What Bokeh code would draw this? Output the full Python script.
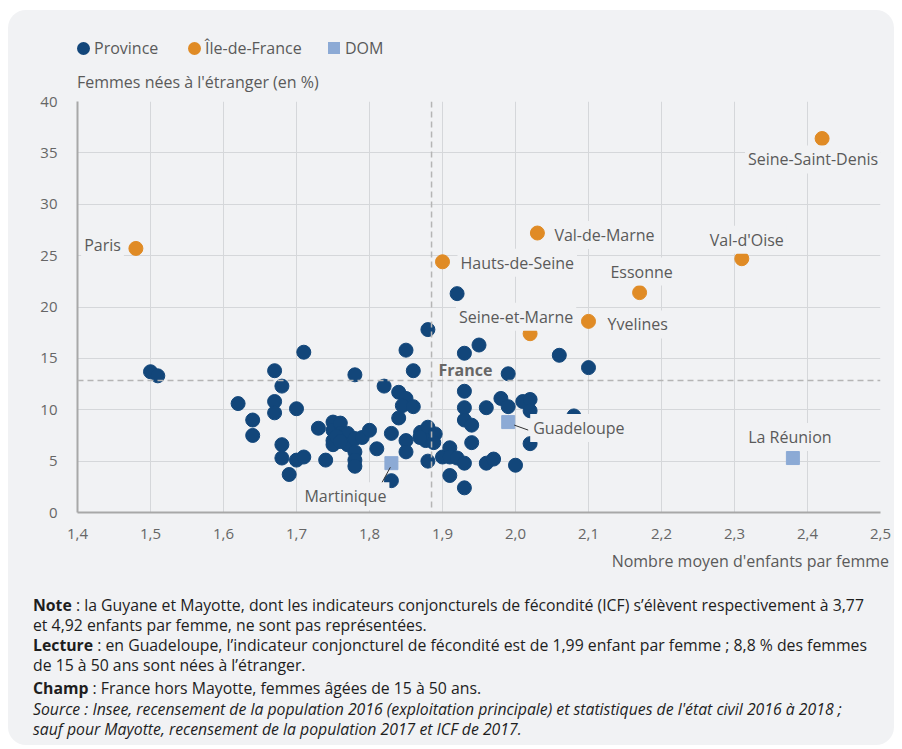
from bokeh.plotting import figure
from bokeh.models import (Label, Span, Div, CustomJSTickFormatter, FixedTicker)
from bokeh.layouts import column
from bokeh.embed import file_html
from bokeh.resources import INLINE

# ---------------- data ----------------
prov_icf = [1.50, 1.51, 1.62, 1.64, 1.64, 1.67, 1.67, 1.67, 1.68, 1.68, 1.68, 1.69,
            1.70, 1.70, 1.71, 1.71, 1.73, 1.74, 1.75, 1.75, 1.75, 1.75, 1.76, 1.76,
            1.765, 1.77, 1.755, 1.77, 1.76, 1.78, 1.78, 1.78, 1.78, 1.78, 1.79, 1.80,
            1.81, 1.82, 1.83, 1.83, 1.84, 1.85, 1.845, 1.86, 1.84, 1.85, 1.85, 1.85,
            1.86, 1.88, 1.87, 1.88, 1.89, 1.877, 1.888, 1.869, 1.88, 1.90, 1.91, 1.91,
            1.92, 1.93, 1.91, 1.93, 1.92, 1.93, 1.95, 1.93, 1.93, 1.93, 1.94, 1.94,
            1.96, 1.96, 1.97, 1.98, 1.99, 1.99, 2.01, 2.02, 2.02, 2.02, 2.00, 2.06,
            2.08, 2.10]
prov_etr = [13.7, 13.3, 10.6, 9.0, 7.5, 13.8, 10.8, 9.7, 12.3, 6.6, 5.3, 3.7,
            10.1, 5.1, 5.4, 15.6, 8.2, 5.1, 8.8, 8.0, 7.0, 6.6, 8.7, 7.7,
            7.2, 7.7, 7.4, 6.6, 6.9, 7.2, 5.9, 5.1, 4.5, 13.4, 7.3, 8.0,
            6.2, 12.3, 7.7, 3.1, 11.7, 11.1, 10.4, 10.3, 9.2, 7.0, 5.9, 15.8,
            13.8, 17.8, 7.8, 8.3, 7.65, 7.0, 6.8, 7.3, 5.0, 5.4, 6.3, 5.4,
            5.3, 4.8, 3.6, 2.4, 21.3, 15.5, 16.3, 11.8, 10.2, 9.0, 8.5, 6.8,
            10.2, 4.8, 5.2, 11.1, 10.3, 13.5, 10.8, 11.0, 9.9, 6.7, 4.6, 15.3,
            9.4, 14.1]

idf_names = ["Paris", "Hauts-de-Seine", "Val-de-Marne", "Seine-Saint-Denis",
             "Val-d'Oise", "Essonne", "Seine-et-Marne", "Yvelines"]
idf_icf = [1.48, 1.90, 2.03, 2.42, 2.31, 2.17, 2.02, 2.10]
idf_etr = [25.7, 24.4, 27.2, 36.4, 24.7, 21.4, 17.4, 18.6]

dom_names = ["Guadeloupe", "Martinique", "La Réunion"]
dom_icf = [1.99, 1.83, 2.38]
dom_etr = [8.8, 4.8, 5.3]

france_icf = 1.885
france_etr = 12.85

x_ticks = [1.4, 1.5, 1.6, 1.7, 1.8, 1.9, 2.0, 2.1, 2.2, 2.3, 2.4, 2.5]
y_ticks = [0, 5, 10, 15, 20, 25, 30, 35, 40]

series_labels = ["Province", "Île-de-France", "DOM"]
y_title = "Femmes nées à l'étranger (en %)"
x_title = "Nombre moyen d'enfants par femme"

# ---------------- styles ----------------
PANEL = "#f1f2f4"
C_PROV = "#12467a"
C_IDF = "#e08b25"
C_DOM = "#8caad5"
TXT = "#5a5a5a"
FONT = "Open Sans"

# label offsets in pixels (x right, y up), alignment
label_style = {
    "Paris": (-12, 3, "right"),
    "Hauts-de-Seine": (15, -1, "left"),
    "Val-de-Marne": (14, -2, "left"),
    "Seine-Saint-Denis": (-9, -21, "center"),
    "Val-d'Oise": (5, 19, "center"),
    "Essonne": (2, 21, "center"),
    "Seine-et-Marne": (-14, 17, "center"),
    "Yvelines": (16, -3, "left"),
    "Guadeloupe": (22, -6, "left"),
    "Martinique": (-46, -33, "center"),
    "La Réunion": (-3, 21, "center"),
}
# leader lines (pixel offsets from the point, y down)
leader_style = {
    "Guadeloupe": ((6, 3), (20, 8)),
    "Martinique": ((-1, 4), (-13, 26)),
}

X0, X1 = 1.4, 2.5
Y0, Y1 = 0, 40
FRAME_W, FRAME_H = 803, 411
W = 886
BL, BT, BB = 69, 11, 33
H = BT + FRAME_H + BB
TOP_H = 80
BOT_H = 200
dxpp = (X1 - X0) / FRAME_W
dypp = (Y1 - Y0) / FRAME_H

p = figure(width=W, height=H, x_range=(X0, X1), y_range=(Y0, Y1),
           output_backend="svg", toolbar_location=None,
           min_border_left=BL, min_border_right=W - BL - FRAME_W,
           min_border_top=BT, min_border_bottom=BB)
p.border_fill_color = None
p.background_fill_color = PANEL
p.outline_line_color = None

# grids
p.xgrid.ticker = FixedTicker(ticks=x_ticks)
p.ygrid.ticker = FixedTicker(ticks=y_ticks)
for g in (p.xgrid, p.ygrid):
    g.grid_line_color = "#d5d7da"
    g.grid_line_width = 1

# axes
p.xaxis.ticker = FixedTicker(ticks=x_ticks)
p.yaxis.ticker = FixedTicker(ticks=y_ticks)
p.xaxis.formatter = CustomJSTickFormatter(code="return tick.toFixed(1).replace('.', ',');")
for ax in (p.xaxis[0], p.yaxis[0]):
    ax.axis_line_color = "#a8a8a8"
    ax.axis_line_width = 2
    ax.major_tick_line_color = None
    ax.minor_tick_line_color = None
    ax.major_label_text_font = FONT
    ax.major_label_text_font_size = "15px"
    ax.major_label_text_color = "#666666"
p.yaxis.major_label_standoff = 14
p.xaxis.major_label_standoff = 10

# France reference lines
p.add_layout(Span(location=france_icf, dimension="height", line_color="#b5b5b5",
                  line_width=1.5, line_dash="6 4"))
p.add_layout(Span(location=france_etr, dimension="width", line_color="#b5b5b5",
                  line_width=1.5, line_dash="6 4"))

# points
r_prov = p.scatter(prov_icf, prov_etr, size=14, marker="circle", color=C_PROV)
r_idf = p.scatter(idf_icf, idf_etr, size=14, marker="circle", color=C_IDF)
r_dom = p.scatter(dom_icf, dom_etr, size=13, marker="square", color=C_DOM)

# leader lines
lx0, ly0, lx1, ly1 = [], [], [], []
for n, xv, yv in zip(dom_names, dom_icf, dom_etr):
    if n in leader_style:
        (ax_, ay_), (bx_, by_) = leader_style[n]
        lx0.append(xv + ax_ * dxpp); ly0.append(yv - ay_ * dypp)
        lx1.append(xv + bx_ * dxpp); ly1.append(yv - by_ * dypp)
p.segment(lx0, ly0, lx1, ly1, line_color="#333333", line_width=1)

# point labels
for names, xs, ys in ((idf_names, idf_icf, idf_etr), (dom_names, dom_icf, dom_etr)):
    for n, xv, yv in zip(names, xs, ys):
        xo, yo, al = label_style[n]
        p.add_layout(Label(x=xv, y=yv, text=n, x_offset=xo, y_offset=yo,
                           text_align=al, text_baseline="middle",
                           text_font=FONT, text_font_size="16px",
                           text_color=TXT, background_fill_color=PANEL,
                           padding=3))

p.add_layout(Label(x=france_icf, y=france_etr, text="France", x_offset=7, y_offset=10,
                   text_align="left", text_baseline="middle", text_font=FONT,
                   text_font_size="16px", text_font_style="bold", text_color="#666666"))

# ---------------- header (legend + y title) ----------------
def abs_text(left, center_y, txt, lh=20):
    return (f"<div style='position:absolute; left:{left}px; top:{center_y - lh / 2}px; "
            f"line-height:{lh}px; white-space:nowrap;'>{txt}</div>")

def marker(cx, cy, size, color, round_):
    rad = "50%" if round_ else "0"
    return (f"<div style='position:absolute; left:{cx - size / 2}px; top:{cy - size / 2}px; "
            f"width:{size}px; height:{size}px; border-radius:{rad}; background:{color};'></div>")

leg_y = 38
header_html = (
    f"<div style=\"position:relative; width:{W}px; height:{TOP_H}px; font-family:'Open Sans'; "
    f"font-size:16px; color:{TXT};\">"
    + marker(75, leg_y, 13, C_PROV, True) + abs_text(86, leg_y, series_labels[0])
    + marker(186, leg_y, 13, C_IDF, True) + abs_text(197, leg_y, series_labels[1])
    + marker(326, leg_y, 12, C_DOM, False) + abs_text(337, leg_y, series_labels[2])
    + abs_text(69, 72, y_title, lh=16)
    + "</div>"
)
header = Div(text=header_html, width=W, height=TOP_H, margin=0)

# ---------------- footer (x title + notes) ----------------
notes_html = (
    f"<div style=\"position:relative; width:{W}px; height:{BOT_H}px; font-family:'Open Sans';\">"
    f"<div style='position:absolute; right:5px; top:6px; line-height:20px; font-size:16px; "
    f"color:{TXT}; white-space:nowrap;'>{x_title}</div>"
    "<div style='position:absolute; left:25px; top:50px; font-size:15.8px; line-height:20px; "
    "color:#1e1e1e; white-space:nowrap;'>"
    "<b>Note</b> : la Guyane et Mayotte, dont les indicateurs conjoncturels de fécondité (ICF) s’élèvent respectivement à 3,77<br>"
    "et 4,92 enfants par femme, ne sont pas représentées.<br>"
    "<b>Lecture</b> : en Guadeloupe, l’indicateur conjoncturel de fécondité est de 1,99 enfant par femme ; 8,8 % des femmes<br>"
    "de 15 à 50 ans sont nées à l’étranger.<br>"
    "<div style='margin-top:3px; margin-bottom:1px'><b>Champ</b> : France hors Mayotte, femmes âgées de 15 à 50 ans.</div>"
    "<i>Source : Insee, recensement de la population 2016 (exploitation principale) et statistiques de l'état civil 2016 à 2018 ;<br>"
    "sauf pour Mayotte, recensement de la population 2017 et ICF de 2017.</i>"
    "</div></div>"
)
footer = Div(text=notes_html, width=W, height=BOT_H, margin=0)

layout = column(header, p, footer, spacing=0,
                styles={"background-color": PANEL, "border-radius": "18px",
                        "margin-left": "8px", "margin-top": "10px"})

open("out.html", "w").write(file_html(layout, INLINE))
